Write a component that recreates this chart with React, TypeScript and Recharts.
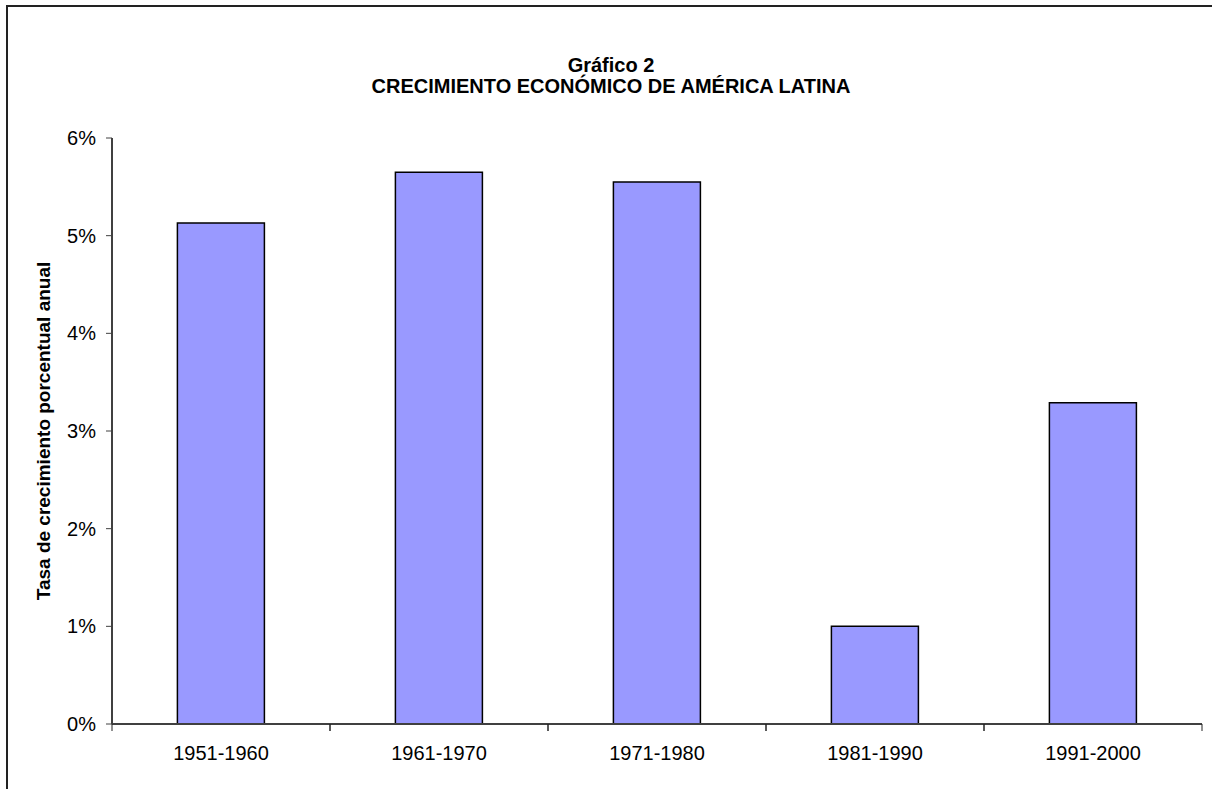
import React from 'react';
import { BarChart, Bar, XAxis, YAxis, Label } from 'recharts';

const categories = ['1951-1960', '1961-1970', '1971-1980', '1981-1990', '1991-2000'];
const growthRates = [5.13, 5.65, 5.55, 1.0, 3.29];
const yTicks = [0, 1, 2, 3, 4, 5, 6];

const titleLine1 = 'Gráfico 2';
const titleLine2 = 'CRECIMIENTO ECONÓMICO DE AMÉRICA LATINA';
const yAxisTitle = 'Tasa de crecimiento porcentual anual';

const data = categories.map((c, i) => ({ period: c, value: growthRates[i] }));

const FONT = 'Arial, "Liberation Sans", Helvetica, sans-serif';

const XTick = (props: any) => {
  const { x, y, payload } = props;
  const off = payload && typeof payload.offset === 'number' ? payload.offset : 0;
  return (
    <g>
      <line x1={x - off} x2={x - off} y1={y} y2={y + 7} stroke="#222" strokeWidth={1} />
      <line x1={x + off} x2={x + off} y1={y} y2={y + 7} stroke="#222" strokeWidth={1} />
      <text x={x} y={y + 36} textAnchor="middle" fontSize={20} fontFamily={FONT} fill="#000">
        {payload.value}
      </text>
    </g>
  );
};

const YLabel = (props: any) => {
  const vb = props.viewBox || {};
  const cy = (vb.y || 0) + (vb.height || 0) / 2;
  return (
    <text
      x={43}
      y={cy}
      transform={`rotate(-90, 43, ${cy})`}
      textAnchor="middle"
      dominantBaseline="central"
      fontSize={19}
      fontWeight="bold"
      fontFamily={FONT}
      fill="#000"
    >
      {yAxisTitle}
    </text>
  );
};

export default function App() {
  return (
    <div
      style={{
        position: 'absolute',
        left: 0,
        top: 0,
        width: 1212,
        height: 789,
        overflow: 'hidden',
        background: '#fff',
        fontFamily: FONT,
      }}
    >
      <div
        style={{
          position: 'absolute',
          left: 6,
          top: 5,
          width: 1400,
          height: 1000,
          borderLeft: '2px solid #222',
          borderTop: '2px solid #222',
        }}
      />
      <div
        style={{
          position: 'absolute',
          left: 0,
          top: 55,
          width: 1222,
          textAlign: 'center',
          fontWeight: 'bold',
          fontSize: 20,
          lineHeight: '21px',
          color: '#000',
        }}
      >
        <div>{titleLine1}</div>
        <div>{titleLine2}</div>
      </div>
      <div style={{ position: 'absolute', left: 0, top: 0 }}>
        <BarChart
          width={1212}
          height={789}
          data={data}
          margin={{ top: 138, right: 10, bottom: 0, left: 0 }}
          barCategoryGap="30%"
        >
          <XAxis
            dataKey="period"
            height={65}
            tickSize={0}
            tickMargin={0}
            tickLine={false}
            axisLine={{ stroke: '#404040', strokeWidth: 2 }}
            tick={<XTick />}
            interval={0}
          />
          <XAxis
            xAxisId="top"
            dataKey="period"
            orientation="top"
            height={0}
            tick={false}
            tickLine={false}
            axisLine={{ stroke: '#8a8a8a', strokeWidth: 2 }}
          />
          <YAxis
            width={112}
            domain={[0, 6]}
            ticks={yTicks}
            interval={0}
            tickFormatter={(v: number) => `${v}%`}
            tickSize={6}
            tickMargin={10}
            tick={{ fontSize: 20, fill: '#000', fontFamily: FONT }}
            tickLine={{ stroke: '#404040' }}
            axisLine={{ stroke: '#404040', strokeWidth: 2 }}
          >
            <Label content={<YLabel />} />
          </YAxis>
          <YAxis
            yAxisId="right"
            orientation="right"
            width={0}
            tick={false}
            tickLine={false}
            axisLine={{ stroke: '#8a8a8a', strokeWidth: 2 }}
          />
          <Bar
            dataKey="value"
            fill="#9999FF"
            stroke="#000"
            strokeWidth={1.5}
            isAnimationActive={false}
          />
        </BarChart>
      </div>
    </div>
  );
}
